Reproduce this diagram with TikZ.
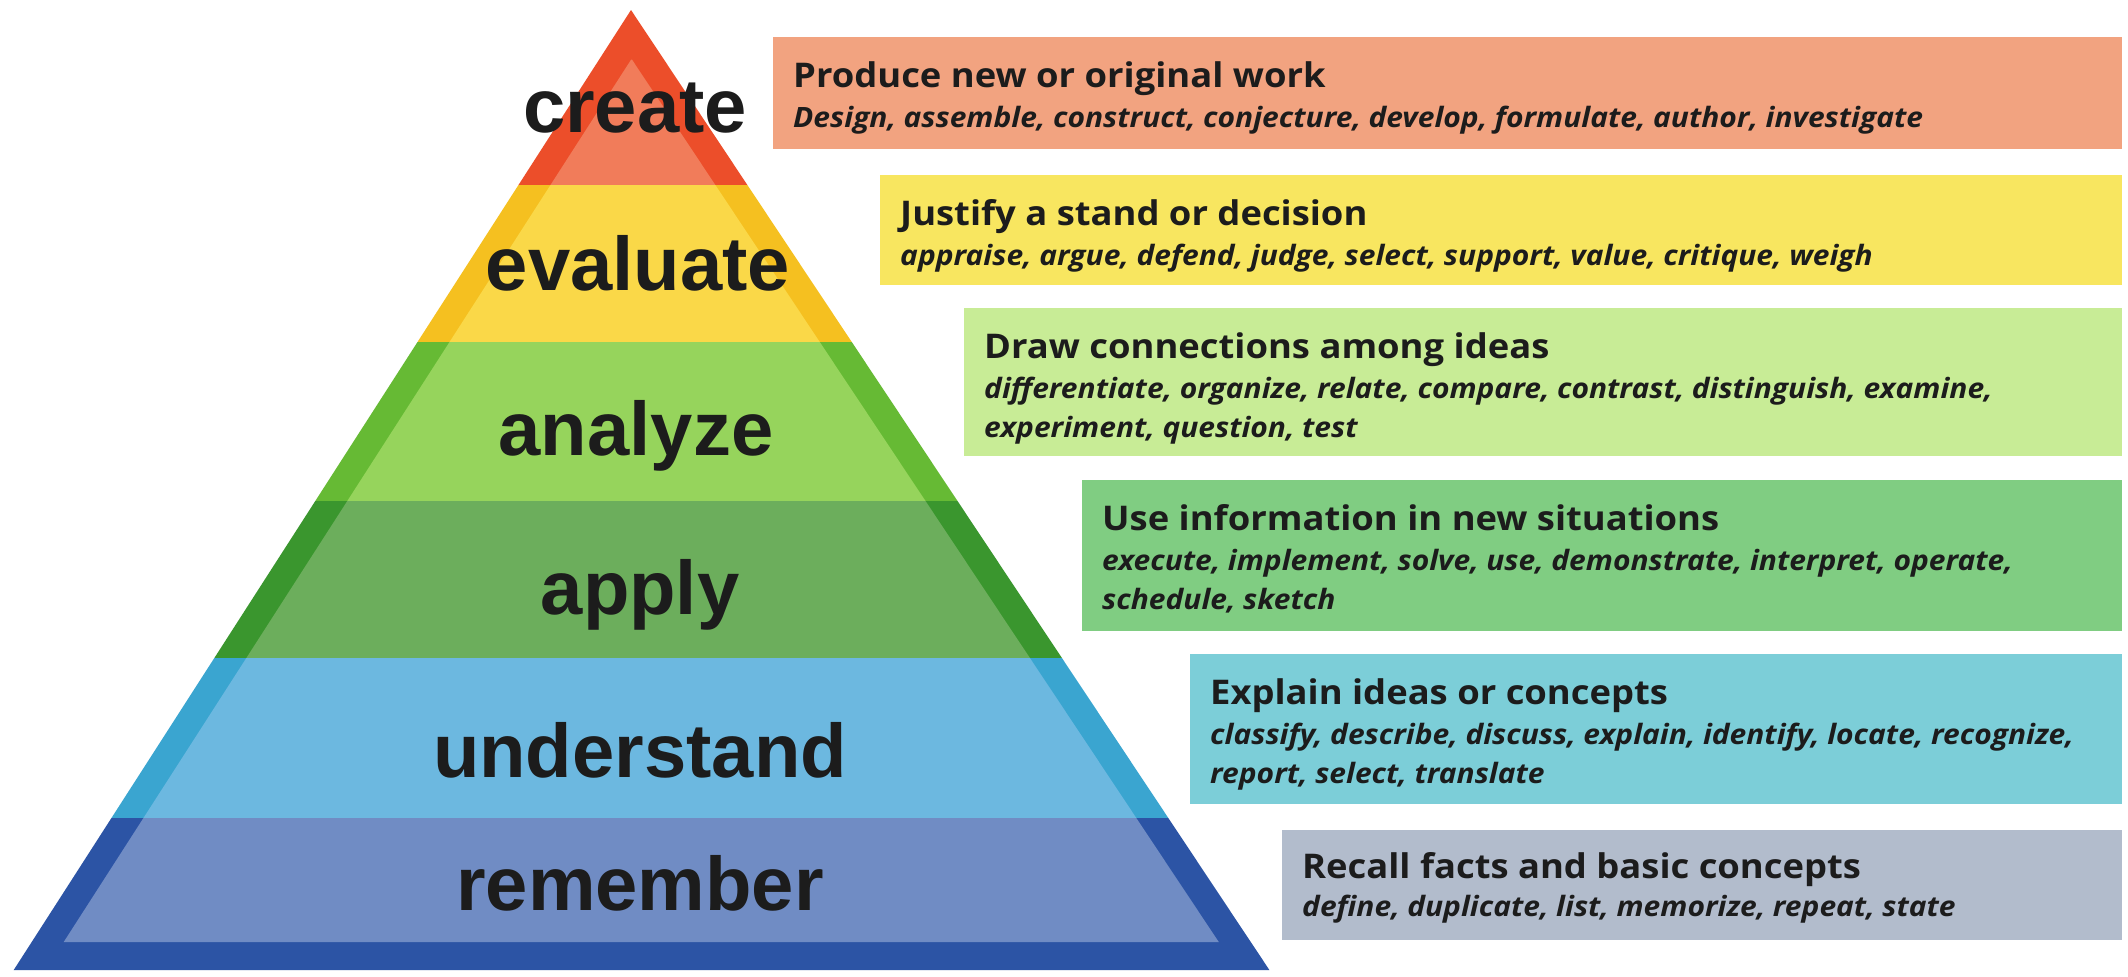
\documentclass[tikz,border=0pt]{standalone}
\usepackage{fontspec}
\usetikzlibrary{calc,positioning}
\newfontfamily\lvlfont{Liberation Sans}
\newfontfamily\boxfont[FakeStretch=1.07]{Open Sans}
\definecolor{ink}{RGB}{28,28,28}
\definecolor{crO}{RGB}{236,78,42}\definecolor{crI}{RGB}{241,124,90}\definecolor{crB}{RGB}{242,163,128}
\definecolor{evO}{RGB}{245,192,32}\definecolor{evI}{RGB}{250,216,72}\definecolor{evB}{RGB}{248,230,96}
\definecolor{anO}{RGB}{102,186,52}\definecolor{anI}{RGB}{150,212,92}\definecolor{anB}{RGB}{200,236,150}
\definecolor{apO}{RGB}{58,150,46}\definecolor{apI}{RGB}{108,174,92}\definecolor{apB}{RGB}{128,205,130}
\definecolor{unO}{RGB}{58,165,208}\definecolor{unI}{RGB}{108,184,224}\definecolor{unB}{RGB}{124,206,216}
\definecolor{reO}{RGB}{44,84,165}\definecolor{reI}{RGB}{112,140,196}\definecolor{reB}{RGB}{178,188,204}
\tikzset{lvl/.style={anchor=base,inner sep=0pt,text=ink,font=\lvlfont\bfseries\fontsize{76}{76}\selectfont},
 bx/.style={anchor=north west,inner sep=0pt,minimum height=110pt},
 hd/.style={anchor=base west,inner sep=0pt,text=ink,font=\boxfont\bfseries\fontsize{34}{34}\selectfont},
 sb/.style={anchor=base west,inner sep=0pt,text=ink,font=\boxfont\bfseries\itshape\fontsize{28}{28}\selectfont}}

\begin{document}
\begin{tikzpicture}[x=1pt,y=-1pt]
\fill[white] (0,0) rectangle (2128,977);
\useasboundingbox (0,0) rectangle (2128,977);
% pyramid bands: top/bottom/inner bottom/outer/inner
\foreach \t/\b/\bi/\oc/\ic in {10/185/185/crO/crI,185/342/342/evO/evI,342/501/501/anO/anI,501/658/658/apO/apI,658/818/818/unO/unI,818/970/942/reO/reI}{
 \pgfmathsetmacro\ti{max(\t,59.5)}
 \fill[\oc] ({631-0.643*(\t-10)},\t)--({631+0.665*(\t-10)},\t)--({631+0.665*(\b-10)},\b)--({631-0.643*(\b-10)},\b)--cycle;
 \fill[\ic] ({663-0.643*(\ti-10)},\ti)--({599+0.665*(\ti-10)},\ti)--({599+0.665*(\bi-10)},\bi)--({663-0.643*(\bi-10)},\bi)--cycle;
}
\node[lvl] (crl) at (635,132) {create};
\node[lvl] (evl) at (638,290) {evaluate};
\node[lvl] (anl) at (636,455) {analyze};
\node[lvl] (apl) at (640,614) {apply};
\node[lvl] (unl) at (640,777) {understand};
\node[lvl] (rel) at (640,910) {remember};
% boxes
\node[bx,fill=crB,minimum width=1349pt,minimum height=112pt] (crbox) at (773,37) {};
\node[hd] (crhd) at ($(crbox.north west)+(20,50)$) {Produce new or original work};
\node[sb] (crsb) at ($(crhd.base west)+(0,40)$) {Design, assemble, construct, conjecture, develop, formulate, author, investigate};
\node[bx,fill=evB,minimum width=1242pt] (evbox) at (880,175) {};
\node[hd] (evhd) at ($(evbox.north west)+(20,50)$) {Justify a stand or decision};
\node[sb] (evsb) at ($(evhd.base west)+(0,40)$) {appraise, argue, defend, judge, select, support, value, critique, weigh};
\node[bx,fill=anB,minimum width=1158pt,minimum height=148pt] (anbox) at (964,308) {};
\node[hd] (anhd) at ($(anbox.north west)+(20,50)$) {Draw connections among ideas};
\node[sb] (ansb) at ($(anhd.base west)+(0,40)$) {differentiate, organize, relate, compare, contrast, distinguish, examine,};
\node[sb] (ansc) at ($(ansb.base west)+(0,39)$) {experiment, question, test};
\node[bx,fill=apB,minimum width=1040pt,minimum height=151pt] (apbox) at (1082,480) {};
\node[hd] (aphd) at ($(apbox.north west)+(20,50)$) {Use information in new situations};
\node[sb] (apsb) at ($(aphd.base west)+(0,40)$) {execute, implement, solve, use, demonstrate, interpret, operate,};
\node[sb] (apsc) at ($(apsb.base west)+(0,39)$) {schedule, sketch};
\node[bx,fill=unB,minimum width=932pt,minimum height=150pt] (unbox) at (1190,654) {};
\node[hd] (unhd) at ($(unbox.north west)+(20,50)$) {Explain ideas or concepts};
\node[sb] (unsb) at ($(unhd.base west)+(0,40)$) {classify, describe, discuss, explain, identify, locate, recognize,};
\node[sb] (unsc) at ($(unsb.base west)+(0,39)$) {report, select, translate};
\node[bx,fill=reB,minimum width=840pt] (rebox) at (1282,830) {};
\node[hd] (rehd) at ($(rebox.north west)+(20,48)$) {Recall facts and basic concepts};
\node[sb] (resb) at ($(rehd.base west)+(0,38)$) {define, duplicate, list, memorize, repeat, state};
\end{tikzpicture}
\end{document}
